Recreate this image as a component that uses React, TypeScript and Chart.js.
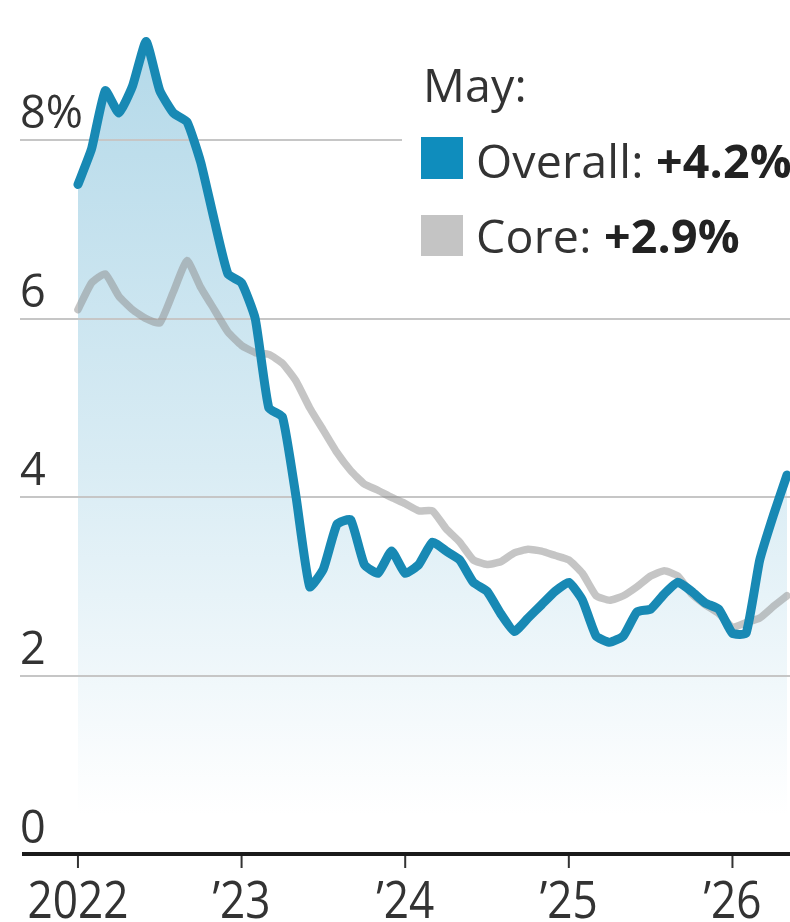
import { useEffect, useRef } from "react";
import { Chart, registerables } from "chart.js";

Chart.register(...registerables);

// Monthly data, Jan 2022 .. May 2026 (index 0 = Jan 2022)
const overall: number[] = [
  7.5, 7.9, 8.55, 8.3, 8.6, 9.1, 8.55, 8.3, 8.2, 7.75, 7.1, 6.5,
  6.4, 6.0, 5.0, 4.9, 4.0, 3.0, 3.2, 3.7, 3.75, 3.25, 3.15, 3.4,
  3.15, 3.25, 3.5, 3.4, 3.3, 3.05, 2.95, 2.7, 2.5, 2.65, 2.8, 2.95,
  3.05, 2.85, 2.45, 2.38, 2.45, 2.72, 2.75, 2.92, 3.05, 2.95, 2.82, 2.75,
  2.48, 2.48, 3.3, 3.8, 4.25,
];

const core: number[] = [
  6.1, 6.4, 6.5, 6.25, 6.1, 6.0, 5.95, 6.3, 6.65, 6.35, 6.1, 5.85,
  5.7, 5.62, 5.6, 5.5, 5.3, 5.0, 4.75, 4.5, 4.3, 4.15, 4.08, 4.0,
  3.93, 3.85, 3.85, 3.65, 3.5, 3.3, 3.25, 3.28, 3.38, 3.42, 3.4, 3.35,
  3.3, 3.15, 2.9, 2.85, 2.9, 3.0, 3.12, 3.18, 3.12, 2.92, 2.8, 2.7,
  2.55, 2.6, 2.65, 2.78, 2.9,
];

const yearTickIndex: number[] = [0, 12, 24, 36, 48];
const yearTickLabels: string[] = ["2022", "\u201923", "\u201924", "\u201925", "\u201926"];

const yTickValues: number[] = [0, 2, 4, 6, 8];
const yTickLabels: string[] = ["0", "2", "4", "6", "8%"];

const legendMonth = "May:";
const legendOverallLabel = "Overall:";
const legendOverallValue = "+4.2%";
const legendCoreLabel = "Core:";
const legendCoreValue = "+2.9%";

const BLUE = "#1889b4";
const GREY = "rgba(140,140,140,0.5)";
const TEXT = "#333333";

export default function App() {
  const canvasRef = useRef<HTMLCanvasElement | null>(null);

  useEffect(() => {
    document.body.style.margin = "0";
    const canvas = canvasRef.current;
    if (!canvas) return;

    const deco = {
      id: "deco",
      beforeDatasetsDraw(chart: any) {
        const { ctx, scales } = chart;
        const y = scales.y;
        ctx.save();
        ctx.strokeStyle = "#c6c6c6";
        ctx.lineWidth = 2;
        yTickValues.forEach((v) => {
          if (v === 0) return;
          const py = Math.round(y.getPixelForValue(v));
          ctx.beginPath();
          ctx.moveTo(20, py);
          ctx.lineTo(790, py);
          ctx.stroke();
        });
        ctx.restore();
      },
      afterDraw(chart: any) {
        const { ctx, scales } = chart;
        const x = scales.x;
        const y = scales.y;
        ctx.save();
        ctx.fillStyle = TEXT;
        ctx.font = '45px "Open Sans"';
        ctx.textAlign = "left";
        ctx.textBaseline = "alphabetic";
        yTickValues.forEach((v, i) => {
          const py = y.getPixelForValue(v);
          ctx.fillText(yTickLabels[i], 20, py - 12);
        });
        const y0 = y.getPixelForValue(0);
        ctx.strokeStyle = "#1a1a1a";
        ctx.lineWidth = 4;
        ctx.beginPath();
        ctx.moveTo(22, y0 - 1);
        ctx.lineTo(790, y0 - 1);
        ctx.stroke();
        ctx.lineWidth = 2;
        ctx.strokeStyle = "#333";
        ctx.font = '52px "Open Sans"';
        ctx.textAlign = "center";
        yearTickIndex.forEach((idx, i) => {
          const px = x.getPixelForValue(idx);
          ctx.beginPath();
          ctx.moveTo(px, y0 + 1);
          ctx.lineTo(px, y0 + 13);
          ctx.stroke();
          ctx.save();
          ctx.translate(px, y0 + 63);
          ctx.scale(0.85, 1);
          ctx.fillText(yearTickLabels[i], 0, 0);
          ctx.restore();
        });
        ctx.restore();
      },
    };

    const chart = new Chart(canvas, {
      type: "line",
      data: {
        datasets: [
          {
            label: "Overall",
            data: overall.map((v, i) => ({ x: i, y: v })),
            borderColor: BLUE,
            borderWidth: 9,
            pointRadius: 0,
            tension: 0.15,
            borderJoinStyle: "round",
            borderCapStyle: "round",
            fill: "origin",
            backgroundColor: (c: any) => {
              const ch = c.chart;
              const area = ch.chartArea;
              if (!area) return "rgba(0,0,0,0)";
              const g = ch.ctx.createLinearGradient(0, 40, 0, 815);
              g.addColorStop(0, "#b4d9e9");
              g.addColorStop(0.55, "#d9ecf4");
              g.addColorStop(1, "#ffffff");
              return g;
            },
          },
          {
            label: "Core",
            data: core.map((v, i) => ({ x: i, y: v })),
            borderColor: GREY,
            borderWidth: 7.5,
            pointRadius: 0,
            tension: 0.15,
            borderJoinStyle: "round",
            borderCapStyle: "round",
            fill: false,
          },
        ],
      },
      options: {
        animation: false,
        responsive: false,
        devicePixelRatio: 1,
        layout: { padding: { left: 20, right: 0, top: 0, bottom: 67 } },
        scales: {
          x: { type: "linear", display: false, min: -4.25, max: 52.22 },
          y: { type: "linear", display: false, min: 0, max: 9.564 },
        },
        plugins: {
          legend: { display: false },
          tooltip: { enabled: false },
          filler: { drawTime: "beforeDatasetsDraw" },
        },
      } as any,
      plugins: [deco],
    });

    return () => chart.destroy();
  }, []);

  const legendFont: React.CSSProperties = {
    position: "absolute",
    fontFamily: '"Open Sans", sans-serif',
    fontSize: 46.5,
    lineHeight: "46.5px",
    letterSpacing: "0.2px",
    color: TEXT,
    whiteSpace: "nowrap",
  };

  return (
    <div style={{ position: "relative", width: 790, height: 922, background: "#fff", overflow: "hidden" }}>
      <canvas ref={canvasRef} width={790} height={922} style={{ position: "absolute", left: 0, top: 0, width: 790, height: 922 }} />
      <div style={{ position: "absolute", left: 402, top: 60, width: 388, height: 220, background: "#fff" }}>
        <div style={{ ...legendFont, left: 21, top: 0.7 }}>{legendMonth}</div>
        <div style={{ position: "absolute", left: 19, top: 77, width: 42, height: 42, background: "#0f8dbd" }} />
        <div style={{ ...legendFont, left: 74, top: 76.7 }}>
          {legendOverallLabel} <b style={{ fontWeight: 700, color: "#222" }}>{legendOverallValue}</b>
        </div>
        <div style={{ position: "absolute", left: 19, top: 155, width: 42, height: 41, background: "#c4c4c4" }} />
        <div style={{ ...legendFont, left: 74, top: 151.7 }}>
          {legendCoreLabel} <b style={{ fontWeight: 700, color: "#222" }}>{legendCoreValue}</b>
        </div>
      </div>
    </div>
  );
}
